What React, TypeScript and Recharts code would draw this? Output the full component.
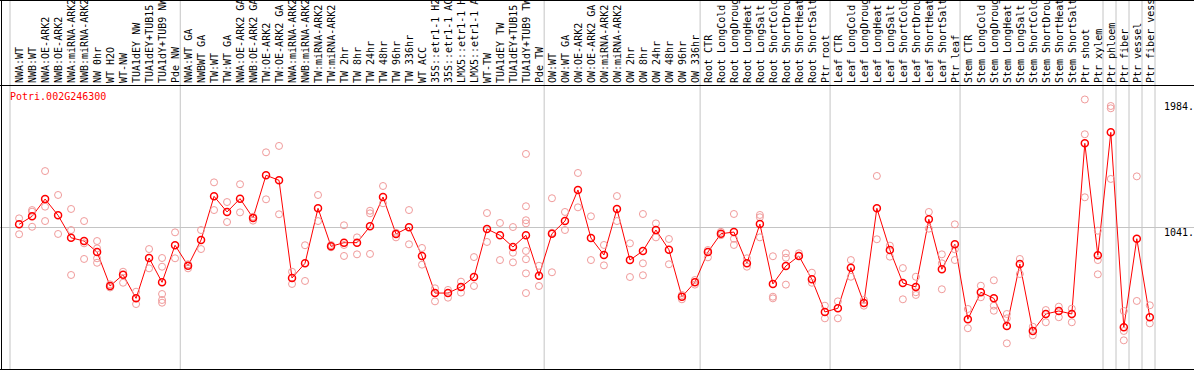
import { ComposedChart, Line, Scatter, XAxis, YAxis, ReferenceLine } from 'recharts';

// sample labels, cut to 14 characters like the original chart
const samples = [
  'NWA:WT', 'NWB:WT', 'NWA:OE-ARK2', 'NWB:OE-ARK2', 'NWA:miRNA-ARK2', 'NWB:miRNA-ARK2', 'NW 0hr', 'WT H2O',
  'WT-NW', 'TUA1dEY NW', 'TUA1dEY+TUB15', 'TUA1dY+TUB9 NW', 'Pde NW',
  'NWA:WT GA', 'NWBWT GA', 'TW:WT', 'TW:WT GA', 'NWA:OE-ARK2 GA', 'NWB:OE-ARK2 GA', 'TW:OE-ARK2', 'TW:OE-ARK2 GA',
  'NWA:miRNA-ARK2', 'NWB:miRNA-ARK2', 'TW:miRNA-ARK2', 'TW:miRNA-ARK2', 'TW 2hr', 'TW 8hr', 'TW 24hr', 'TW 48hr',
  'TW 96hr', 'TW 336hr', 'WT ACC', '35S::etr1-1 H2', '35S::etr1-1 AC', 'LMX5::etr1-1 H', 'LMX5::etr1-1 A', 'WT-TW',
  'TUA1dEY TW', 'TUA1dEY+TUB15', 'TUA1dY+TUB9 TW', 'Pde TW',
  'OW:WT', 'OW:WT GA', 'OW:OE-ARK2', 'OW:OE-ARK2 GA', 'OW:miRNA-ARK2', 'OW:miRNA-ARK2', 'OW 2hr', 'OW 8hr',
  'OW 24hr', 'OW 48hr', 'OW 96hr', 'OW 336hr',
  'Root CTR', 'Root LongCold', 'Root LongDroug', 'Root LongHeat', 'Root LongSalt', 'Root ShortCold', 'Root ShortDrou',
  'Root ShortHeat', 'Root ShortSalt', 'Ptr root',
  'Leaf CTR', 'Leaf LongCold', 'Leaf LongDroug', 'Leaf LongHeat', 'Leaf LongSalt', 'Leaf ShortCold', 'Leaf ShortDrou',
  'Leaf ShortHeat', 'Leaf ShortSalt', 'Ptr leaf',
  'Stem CTR', 'Stem LongCold', 'Stem LongDroug', 'Stem LongHeat', 'Stem LongSalt', 'Stem ShortCold', 'Stem ShortDrou',
  'Stem ShortHeat', 'Stem ShortSalt', 'Ptr shoot', 'Ptr xylem',
  'Ptr phloem', 'Ptr fiber', 'Ptr vessel', 'Ptr fiber vess',
];

const means = [
  1065, 1124, 1251, 1131, 966, 942, 861, 611, 694, 520, 817, 638, 911,
  760, 950, 1271, 1156, 1254, 1112, 1426, 1389, 670, 778, 1183, 903, 930, 930, 1050, 1266, 994, 1043, 832, 559, 559,
  604, 677, 1031, 984, 898, 984, 687,
  996, 1089, 1318, 964, 839, 1178, 802, 869, 1023, 878, 532, 638,
  861, 996, 1008, 778, 1067, 626, 758, 832, 660, 420,
  447, 746, 486, 1183, 876, 633, 604, 1102, 734, 918,
  366, 565, 520, 317, 773, 280, 405, 427, 405, 1661, 837,
  1742, 307, 959, 381,
];

const replicates: number[][] = [
  [1109, 992], [1170, 1158, 1047], [1457, 1195, 1089], [1281, 994], [1178, 1023, 692], [1089, 925, 810],
  [942, 888, 815, 782], [623, 600], [716, 635], [569, 478], [883, 741], [817, 753, 552, 508, 488], [1006, 815],
  [771, 741], [1023, 883], [1374, 1170], [1229, 1082], [1360, 1153], [1121, 1092], [1595, 1249], [1642, 1139],
  [716, 626], [911, 648], [1281, 1089], [913, 896], [1058, 913, 832], [969, 844], [1165, 1146, 847], [1347, 1220],
  [1003, 969], [1170, 918], [891, 768], [594, 498], [582, 525], [643, 562], [824, 611], [1148, 935], [1075, 802],
  [1045, 856, 785], [1583, 1198, 1095, 1072, 869, 808, 704, 559], [760, 611],
  [1257, 1003, 712], [1156, 1023], [1443, 1190], [1124, 802], [913, 763], [1273, 1089], [925, 677], [1141, 778, 690],
  [1072, 969], [957, 771], [545, 513], [655, 621],
  [876, 822], [1010, 985], [1141, 959, 913], [815, 753], [1134, 1117, 969], [830, 532, 520], [852, 819, 621],
  [852, 832], [709, 635], [466, 373],
  [498, 373], [802, 679], [508, 466], [1421, 955], [908, 827], [743, 513], [679, 565, 545], [1156, 1033],
  [844, 778, 587], [1065, 881, 802],
  [442, 300], [613, 528], [653, 466, 429], [405, 373, 189], [810, 699], [311, 248], [434, 344], [459, 381],
  [444, 344], [1984, 1728, 1264], [1018, 802, 697],
  [1936, 1919, 1399], [427, 280, 211], [1418, 501], [469, 336],
];

// last sample index of each group (a gray divider follows it)
const groupEnds = [12, 40, 52, 62, 72, 83, 84, 85, 86];

const yTicks = [0, 1041.6, 1984];
const yTickLabels = ['0', '1041.', '1984.'];
const Y_MAX = 2083.2;

const data = samples.map((name, i) => ({ i, name, value: means[i] }));
const repPoints = replicates.flatMap((reps, i) => reps.map((value) => ({ i, value })));

const W = 1194;
const H = 370;
const AXIS_H = 86;
const LEFT = 10;
const Y_AXIS_W = 39;
const X_MIN = -0.7;
const X_MAX = 87.4;
const PX_PER_X = (W - LEFT - Y_AXIS_W) / (X_MAX - X_MIN);
const Y_TOP = (Y_MAX * (H - 1)) / (H - 1 - AXIS_H);

const RED = '#ff0000';
const REP = '#f09a9a';
const GRID = '#c4c4c4';
const FONT = '"DejaVu Sans Mono", monospace';

const dividers = [X_MIN, ...groupEnds.map((g) => g + 0.4), X_MAX];
const yTickDy = [-3, 8, 11];

function SampleTick({ x, y, payload }: any) {
  const label = samples[payload.value] ?? '';
  const tx = x + 4;
  return (
    <text x={tx} y={y} transform={`rotate(-90 ${tx} ${y})`} textAnchor="start" fontFamily={FONT} fontSize={10} fill="#000">
      {label}
    </text>
  );
}

function ValueTick({ x, y, payload }: any) {
  const k = yTicks.indexOf(payload.value);
  return (
    <text x={x} y={y} dy={yTickDy[k]} textAnchor="start" fontFamily={FONT} fontSize={10} fill="#000">
      {yTickLabels[k]}
    </text>
  );
}

const RepDot = (p: any) => <circle cx={p.cx} cy={p.cy} r={3.5} fill="none" stroke={REP} strokeWidth={1} />;

export default function App() {
  return (
    <div style={{ position: 'relative', width: W, height: H }}>
      <style>{'body{margin:0}'}</style>
      <ComposedChart width={W} height={H} data={data} margin={{ top: 0, right: 0, bottom: 1, left: LEFT }}>
        <XAxis
          xAxisId={0}
          dataKey="i"
          type="number"
          orientation="top"
          domain={[X_MIN, X_MAX]}
          ticks={samples.map((_, i) => i)}
          interval={0}
          height={AXIS_H}
          axisLine={false}
          tickLine={false}
          tickSize={0}
          tickMargin={3}
          tick={<SampleTick />}
        />
        <YAxis
          dataKey="value"
          orientation="right"
          domain={[0, Y_MAX]}
          ticks={yTicks}
          width={Y_AXIS_W}
          axisLine={false}
          tickLine={false}
          tickSize={0}
          tickMargin={9}
          tick={<ValueTick />}
        />
        <ReferenceLine
          segment={[
            { x: X_MIN - LEFT / PX_PER_X, y: Y_MAX / 2 },
            { x: X_MAX + Y_AXIS_W / PX_PER_X, y: Y_MAX / 2 },
          ]}
          ifOverflow="visible"
          stroke={GRID}
          strokeWidth={1}
        />
        {dividers.map((d) => (
          <ReferenceLine
            key={d}
            segment={[
              { x: d, y: 0 },
              { x: d, y: Y_TOP },
            ]}
            ifOverflow="visible"
            stroke={GRID}
            strokeWidth={1}
          />
        ))}
        <Scatter data={repPoints} dataKey="value" shape={RepDot} isAnimationActive={false} />
        <Line
          dataKey="value"
          stroke={RED}
          strokeWidth={1}
          dot={{ r: 3.5, stroke: RED, strokeWidth: 1.5, fill: 'none' }}
          activeDot={false}
          isAnimationActive={false}
        />
      </ComposedChart>
      <div style={{ position: 'absolute', left: 0, top: 0, width: W, height: 1, background: '#000' }} />
      <div style={{ position: 'absolute', left: 0, top: AXIS_H - 1, width: W, height: 1, background: '#000' }} />
      <div style={{ position: 'absolute', left: 0, top: H - 1, width: W, height: 1, background: '#000' }} />
      <div style={{ position: 'absolute', left: 1, top: 0, width: 1, height: H, background: '#000' }} />
      <div
        style={{
          position: 'absolute',
          left: LEFT,
          top: 92,
          fontFamily: FONT,
          fontSize: 10,
          lineHeight: '10px',
          color: RED,
          whiteSpace: 'nowrap',
        }}
      >
        Potri.002G246300
      </div>
    </div>
  );
}
